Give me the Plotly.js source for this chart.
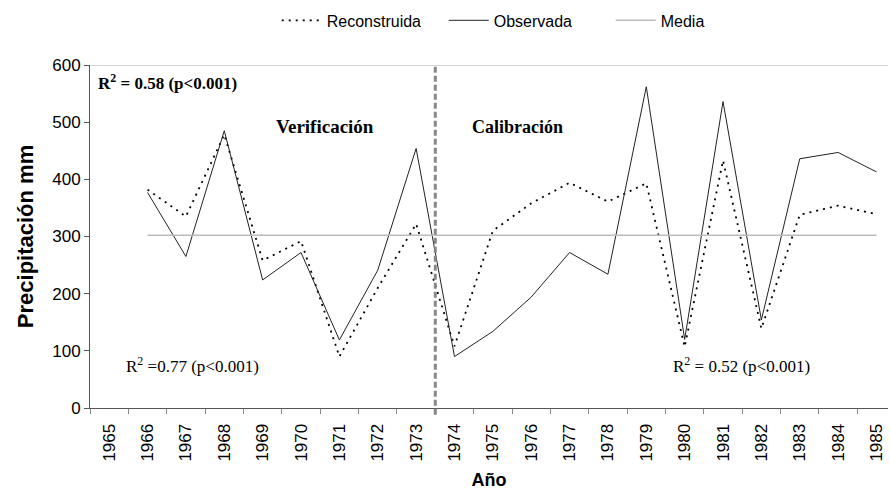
<!DOCTYPE html>
<html>
<head>
<meta charset="utf-8">
<script src="https://cdn.plot.ly/plotly-3.0.1.min.js"></script>
<style>html,body{margin:0;padding:0;background:#fff;overflow:hidden}#chart{width:890px;height:495px}</style>
</head>
<body>
<div id="chart"></div>
<script>
const categories = ["1965","1966","1967","1968","1969","1970","1971","1972","1973","1974","1975","1976","1977","1978","1979","1980","1981","1982","1983","1984","1985"];
const dataYears = ["1966","1967","1968","1969","1970","1971","1972","1973","1974","1975","1976","1977","1978","1979","1980","1981","1982","1983","1984","1985"];
const reconstruida = [382,335,478,258,292,90,210,322,108,310,358,394,361,393,107,433,139,338,354,339];
const observada   = [377,265,485,224,272,119,241,454,90,134,194,272,234,562,120,536,154,436,447,413];
const mediaValue = 302;
const media = dataYears.map(() => mediaValue);
const splitAt = 8.5;

const serif = "Liberation Serif, Times New Roman, serif";
const sans = "Liberation Sans, Arial, sans-serif";

const traces = [
  {x: dataYears, y: reconstruida, name: "Reconstruida", type: "scatter", mode: "lines",
   line: {color: "#000", width: 1.8, dash: "2px,5px"}},
  {x: dataYears, y: observada, name: "Observada", type: "scatter", mode: "lines",
   line: {color: "#222", width: 1}},
  {x: dataYears, y: media, name: "Media", type: "scatter", mode: "lines",
   line: {color: "#bbb", width: 1.5}}
];

const layout = {
  width: 890, height: 495,
  margin: {l: 90, r: 2, t: 65, b: 87, autoexpand: false},
  paper_bgcolor: "#fff", plot_bgcolor: "#fff",
  showlegend: true,
  legend: {orientation: "h", x: 0.234, xanchor: "left", y: 1.13, yanchor: "middle",
           font: {family: sans, size: 16, color: "#000"}, entrywidth: 112, itemwidth: 40},
  xaxis: {type: "category", categoryorder: "array", categoryarray: categories,
          range: [-0.5, 20.3], tickson: "boundaries", ticks: "outside", ticklen: 5,
          tickcolor: "#888", showline: true, linecolor: "#555", linewidth: 1,
          showgrid: false, zeroline: false, tickangle: -90, ticklabelstandoff: 8,
          tickfont: {family: sans, size: 17, color: "#000"},
          title: {text: "Año", font: {family: sans, size: 18, color: "#000", weight: "bold"}, standoff: 12},
          automargin: false, fixedrange: true},
  yaxis: {range: [0, 600], dtick: 100, ticks: "outside", ticklen: 5, tickcolor: "#555",
          showline: true, linecolor: "#555", linewidth: 1, showgrid: false, zeroline: false,
          tickfont: {family: sans, size: 17, color: "#000"},
          title: {text: "Precipitación mm", font: {family: sans, size: 22, color: "#000", weight: "bold"}, standoff: 12},
          automargin: false, fixedrange: true},
  shapes: [
    {type: "line", xref: "paper", yref: "y", x0: 0, x1: 1, y0: 600, y1: 600, line: {color: "#aaa", width: 1}},
    {type: "line", xref: "x", yref: "paper", x0: splitAt, x1: splitAt, y0: -0.02, y1: 1,
     line: {color: "#888", width: 3, dash: "6px,3px"}}
  ],
  annotations: [
    {text: "<b>R<sup>2</sup> = 0.58 (p<0.001)</b>", xref: "paper", yref: "paper", x: 0.008, y: 0.95,
     xanchor: "left", yanchor: "middle", showarrow: false, font: {family: serif, size: 17, color: "#000"}},
    {text: "<b>Verificación</b>", xref: "x", yref: "paper", x: 5.62, y: 0.82,
     xanchor: "center", yanchor: "middle", showarrow: false, font: {family: serif, size: 19, color: "#000"}},
    {text: "<b>Calibración</b>", xref: "x", yref: "paper", x: 10.65, y: 0.82,
     xanchor: "center", yanchor: "middle", showarrow: false, font: {family: serif, size: 18, color: "#000"}},
    {text: "R<sup>2</sup> =0.77 (p<0.001)", xref: "x", yref: "paper", x: 2.18, y: 0.125,
     xanchor: "center", yanchor: "middle", showarrow: false, font: {family: serif, size: 17, color: "#000"}},
    {text: "R<sup>2</sup> = 0.52 (p<0.001)", xref: "x", yref: "paper", x: 16.47, y: 0.125,
     xanchor: "center", yanchor: "middle", showarrow: false, font: {family: serif, size: 17, color: "#000"}}
  ]
};

Plotly.newPlot("chart", traces, layout, {displayModeBar: false, staticPlot: true});
</script>
</body>
</html>
